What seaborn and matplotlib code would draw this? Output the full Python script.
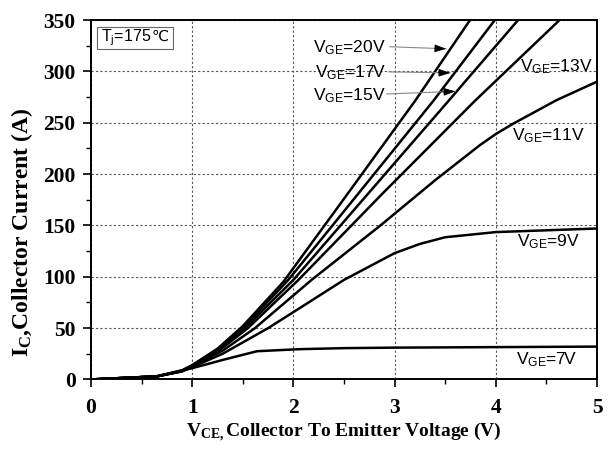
import matplotlib
matplotlib.use("Agg")
import matplotlib.pyplot as plt
from matplotlib.patches import Rectangle
import seaborn as sns
import pandas as pd
from matplotlib.ticker import MultipleLocator

# Output characteristics, Tj = 175 C: collector current (A) vs V_CE (V)
v_20 = [0, 0.65, 0.9, 1.0, 1.25, 1.5, 1.9, 2.5, 3.2, 3.745]
i_20 = [0, 3, 9, 14, 30, 52, 95, 176, 271, 350]

v_17 = [0, 0.65, 0.9, 1.0, 1.25, 1.5, 1.95, 2.6, 3.38, 3.99]
i_17 = [0, 3, 8.5, 13.5, 29, 50, 97, 176, 271, 350]

v_15 = [0, 0.65, 0.9, 1.0, 1.25, 1.52, 2.0, 2.8, 3.53, 4.22]
i_15 = [0, 3, 8.5, 13, 28, 50, 97, 188, 271, 350]

v_13 = [0, 0.65, 0.9, 1.0, 1.25, 1.55, 2.05, 2.9, 3.79, 4.63]
i_13 = [0, 3, 8, 13, 27, 50, 97, 183, 271, 350]

v_11 = [0, 0.65, 0.9, 1.0, 1.3, 1.62, 2.18, 2.86, 3.4, 3.84, 4.0, 4.17, 4.6, 5.0]
i_11 = [0, 3, 8, 12.5, 28, 50, 97, 150, 194, 228, 239, 249, 272, 290]

v_9 = [0, 0.65, 0.9, 1.0, 1.3, 1.75, 2.07, 2.5, 3.0, 3.25, 3.5, 4.0, 5.0]
i_9 = [0, 3, 8, 12, 25, 50, 70, 97, 123, 132, 138.5, 143.5, 147]

v_7 = [0, 0.65, 1.0, 1.3, 1.64, 2.06, 2.5, 3.0, 4.0, 5.0]
i_7 = [0, 3, 11, 19, 27.5, 29.5, 30.5, 31, 31.5, 32]

curves = {
    "20V": (v_20, i_20), "17V": (v_17, i_17), "15V": (v_15, i_15),
    "13V": (v_13, i_13), "11V": (v_11, i_11), "9V": (v_9, i_9), "7V": (v_7, i_7),
}

x_ticks = [0, 1, 2, 3, 4, 5]
y_ticks = [0, 50, 100, 150, 200, 250, 300, 350]

rows = []
for name, (vs, cs) in curves.items():
    for v, c in zip(vs, cs):
        rows.append({"curve": name, "V": v, "I": c})
df = pd.DataFrame(rows)

sns.set_theme(style="white")
plt.rcParams["mathtext.fontset"] = "custom"
plt.rcParams["mathtext.rm"] = "Liberation Sans"
plt.rcParams["mathtext.it"] = "Liberation Sans:italic"
plt.rcParams["mathtext.bf"] = "Liberation Serif:bold"

fig = plt.figure(figsize=(6.08, 4.55), dpi=100)
ax = fig.add_axes([0.1497, 0.166, 0.8323, 0.790])

sns.lineplot(data=df, x="V", y="I", units="curve", estimator=None,
             sort=False, color="black", lw=1.8, ax=ax, legend=False)

ax.set_xlim(0, 5)
ax.set_ylim(0, 350)
ax.set_xticks(x_ticks)
ax.set_yticks(y_ticks)
ax.xaxis.set_minor_locator(MultipleLocator(0.5))
ax.yaxis.set_minor_locator(MultipleLocator(25))

ax.grid(True, which="major", color="#555555", linestyle=(0, (2, 2)), lw=0.8)
for s in ax.spines.values():
    s.set_color("black")
    s.set_linewidth(1.4)

ax.tick_params(axis="both", which="major", direction="out", length=6, width=1.2,
               color="black", pad=5)
ax.tick_params(axis="both", which="minor", direction="out", length=3.5, width=1.0,
               color="black")
ax.tick_params(axis="x", which="both", bottom=True)
ax.tick_params(axis="y", which="both", left=True)
ax.tick_params(axis="x", which="major", pad=7)
for lab in ax.get_xticklabels() + ax.get_yticklabels():
    lab.set_fontfamily("Liberation Serif")
    lab.set_fontweight("bold")
    lab.set_fontsize(15.5)
    lab.set_color("black")

ax.set_xlabel(r"$\mathbf{V_{CE,}}$Collector To Emitter Voltage (V)",
              fontfamily="Liberation Serif", fontweight="bold", fontsize=14,
              color="black")
ax.set_ylabel(r"$\mathbf{I_{C}}$,Collector Current (A)",
              fontfamily="Liberation Serif", fontweight="bold", fontsize=17,
              color="black")
ax.xaxis.label.set_va("center")
ax.xaxis.set_label_coords(0.5, -0.146)
ax.yaxis.label.set_va("center")
ax.yaxis.set_label_coords(-0.136, 0.41)

sans = ["Liberation Sans", "DejaVu Sans"]
lab_fs = 12.5

# junction temperature box
ax.add_patch(Rectangle((0.06, 322), 0.75, 21, fc="white", ec="#666666", lw=0.8,
                       zorder=3))
tj = ax.text(0.1, 332.5, r"T$_{\mathrm{j}}$=175", family=sans, fontsize=11.5,
             va="center", ha="left", color="black", zorder=4)
ax.annotate("℃", xy=(1, 0.56), xycoords=tj, xytext=(0.5, 0),
            textcoords="offset points", family="DejaVu Sans", fontsize=11,
            va="center", ha="left", color="black", zorder=4)

# right-hand labels
ax.text(4.6, 305, r"V$_{\mathrm{GE}}$=13V", family=sans, fontsize=lab_fs,
        ha="center", va="center", color="black")
ax.text(4.52, 237, r"V$_{\mathrm{GE}}$=11V", family=sans, fontsize=lab_fs,
        ha="center", va="center", color="black")
ax.text(4.52, 134, r"V$_{\mathrm{GE}}$=9V", family=sans, fontsize=lab_fs,
        ha="center", va="center", color="black")
ax.text(4.5, 19, r"V$_{\mathrm{GE}}$=7V", family=sans, fontsize=lab_fs,
        ha="center", va="center", color="black")

# labels with pointer arrows
arrow_labels = [
    ("20V", 323, (2.95, 324), (3.51, 322)),
    ("17V", 299, (2.94, 299.5), (3.55, 298.5)),
    ("15V", 276, (2.92, 278), (3.60, 280.5)),
]
for name, ty, tail, head in arrow_labels:
    ax.text(2.915, ty, r"V$_{\mathrm{GE}}$=" + name, family=sans, fontsize=lab_fs,
            ha="right", va="center", color="black")
    ax.annotate("", xy=head, xytext=tail,
                arrowprops=dict(arrowstyle="-", color="#888888", lw=0.8,
                                shrinkA=0, shrinkB=0))
    hx, hy = head
    tx, ty2 = tail
    frac = 0.2
    ax.annotate("", xy=head, xytext=(hx - (hx - tx) * frac, hy - (hy - ty2) * frac),
                arrowprops=dict(arrowstyle="-|>,head_length=0.6,head_width=0.2",
                                color="black", lw=0.6, shrinkA=0, shrinkB=0))

fig.savefig("out.png", dpi=100)
